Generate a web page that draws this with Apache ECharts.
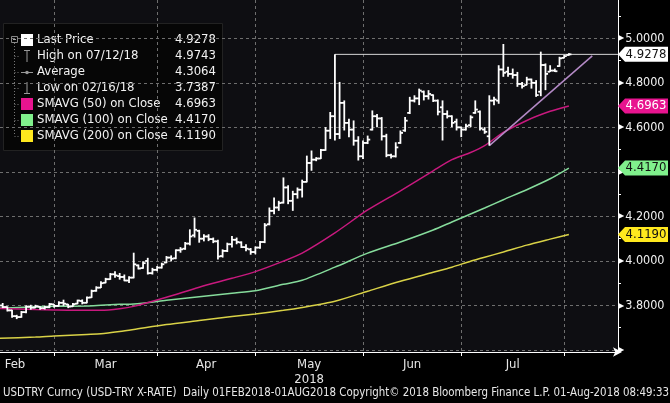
<!DOCTYPE html>
<html>
<head>
<meta charset="utf-8">
<style>html,body{margin:0;padding:0;background:#000;}#c{width:670px;height:403px;}</style>
<script src="https://cdn.jsdelivr.net/npm/echarts@6/dist/echarts.min.js"></script>
</head>
<body>
<div id="c"></div>
<script>
// ---------- DATA ----------
const startIdx = 8; // first visible trading day index (13 Feb 2018), 0 = 01 Feb 2018
const opens = [3.800,3.793,3.778,3.752,3.748,3.770,3.795,3.790,3.794,3.788,3.792,3.805,
  3.798,3.812,3.805,3.796,3.808,3.820,3.812,3.836,3.866,3.880,3.902,3.918,3.940,3.932,3.928,3.912,3.925,3.980,3.968,4.000,3.945,3.960,
  3.970,3.993,4.015,4.012,4.048,4.055,4.078,4.115,4.135,4.100,4.110,4.098,4.088,4.022,4.045,4.075,4.095,4.083,4.062,4.052,4.040,
  4.060,4.085,4.165,4.225,4.240,4.262,4.330,4.270,4.300,4.320,4.355,4.440,4.455,4.460,4.498,4.585,4.650,4.570,4.710,4.620,4.590,4.540,4.470,
  4.530,4.590,4.650,4.640,4.560,4.475,4.470,4.530,4.586,4.665,4.720,4.730,4.760,4.740,4.745,4.720,4.690,4.660,4.650,4.625,4.600,
  4.590,4.610,4.665,4.670,4.590,4.560,4.720,4.720,4.860,4.850,4.840,4.835,4.795,4.790,4.815,4.800,4.760,4.880,4.850,4.855,4.875,4.912,
  4.925];
const highs = [3.811,3.796,3.781,3.758,3.775,3.800,3.803,3.803,3.796,3.798,3.811,3.806,
  3.819,3.826,3.807,3.811,3.826,3.827,3.840,3.871,3.886,3.909,3.924,3.946,3.954,3.946,3.939,3.931,4.037,3.984,3.999,4.014,3.969,3.977,
  3.992,4.022,4.025,4.052,4.062,4.085,4.142,4.195,4.140,4.120,4.120,4.105,4.095,4.052,4.082,4.112,4.105,4.088,4.075,4.058,4.065,
  4.090,4.170,4.240,4.285,4.270,4.375,4.340,4.315,4.330,4.365,4.473,4.496,4.466,4.503,4.601,4.669,4.928,4.804,4.721,4.639,4.631,4.560,4.541,
  4.563,4.676,4.660,4.646,4.571,4.481,4.533,4.586,4.646,4.737,4.744,4.774,4.765,4.767,4.748,4.725,4.721,4.676,4.654,4.639,4.601,
  4.616,4.654,4.721,4.676,4.601,4.744,4.737,4.879,4.9743,4.872,4.864,4.849,4.804,4.827,4.819,4.812,4.940,4.887,4.879,4.864,4.917,4.925,
  4.933];
const lows = [3.788,3.773,3.745,3.7387,3.745,3.765,3.781,3.788,3.781,3.782,3.788,3.790,
  3.796,3.798,3.788,3.794,3.806,3.805,3.810,3.834,3.862,3.878,3.900,3.915,3.924,3.916,3.909,3.901,3.922,3.962,3.965,3.939,3.939,3.954,
  3.966,3.990,3.998,4.008,4.037,4.050,4.070,4.105,4.082,4.088,4.089,4.080,4.007,4.015,4.040,4.060,4.075,4.058,4.044,4.028,4.030,
  4.055,4.080,4.160,4.210,4.225,4.258,4.255,4.225,4.280,4.285,4.353,4.405,4.448,4.458,4.495,4.548,4.541,4.548,4.586,4.556,4.518,4.451,4.458,
  4.525,4.586,4.601,4.541,4.466,4.460,4.465,4.526,4.580,4.660,4.712,4.700,4.721,4.725,4.714,4.654,4.541,4.640,4.601,4.586,4.556,
  4.586,4.601,4.661,4.586,4.571,4.518,4.699,4.706,4.827,4.827,4.819,4.782,4.774,4.789,4.774,4.737,4.740,4.767,4.849,4.849,4.872,4.910,
  4.922];
const closes = [3.793,3.778,3.752,3.748,3.770,3.795,3.790,3.796,3.788,3.792,3.806,3.798,
  3.812,3.808,3.795,3.806,3.822,3.812,3.835,3.865,3.880,3.900,3.918,3.940,3.935,3.928,3.912,3.925,3.985,3.966,3.990,3.945,3.960,3.970,
  3.985,4.015,4.010,4.048,4.052,4.078,4.110,4.140,4.100,4.110,4.098,4.088,4.020,4.045,4.075,4.095,4.085,4.062,4.055,4.040,4.060,
  4.085,4.160,4.225,4.240,4.260,4.330,4.270,4.300,4.320,4.355,4.440,4.455,4.460,4.498,4.585,4.650,4.570,4.710,4.620,4.590,4.540,4.470,4.530,
  4.545,4.650,4.640,4.560,4.475,4.470,4.510,4.575,4.630,4.720,4.730,4.765,4.740,4.750,4.720,4.670,4.660,4.650,4.620,4.600,4.590,
  4.605,4.645,4.680,4.595,4.580,4.720,4.725,4.860,4.845,4.840,4.835,4.795,4.785,4.815,4.800,4.745,4.880,4.840,4.855,4.852,4.910,4.920,
  4.9278];

// moving averages (trading-day index, value)
const smaIdx = [7,15,19,26,29,33,36,43,50,57,62,68,72,79,86,93,100,104,108,111,115,120,125,129];
const sma50  = [3.787,3.782,3.780,3.778,3.778,3.785,3.796,3.837,3.882,3.922,3.952,3.999,4.035,4.126,4.229,4.315,4.405,4.455,4.487,4.518,4.577,4.631,4.672,4.6963];
const sma100 = [3.787,3.794,3.796,3.798,3.801,3.805,3.807,3.823,3.839,3.855,3.866,3.895,3.913,3.972,4.035,4.085,4.139,4.175,4.211,4.238,4.275,4.320,4.369,4.4170];
const sma200 = [3.652,3.658,3.663,3.670,3.673,3.683,3.692,3.714,3.732,3.750,3.762,3.778,3.791,3.819,3.864,3.909,3.949,3.972,3.999,4.017,4.040,4.071,4.098,4.1190];

// annotations
const trendLine = [[112, 4.518], [134, 4.921]];
const lastPrice = 4.9278;
const hLineStart = 79;

// axes
const monthEndIdx = [19, 41, 62, 85, 106, 128];
const monthNames = ['Feb', 'Mar', 'Apr', 'May\n2018', 'Jun', 'Jul'];
const yTicks = [3.6, 3.8, 4.0, 4.2, 4.4, 4.6, 4.8, 5.0];
const yMinorTicks = [3.7, 3.9, 4.1, 4.3, 4.5, 4.7, 4.9, 5.1];

// legend
const legendLabels = ['Last Price', 'High on 07/12/18', 'Average', 'Low on 02/16/18',
  'SMAVG (50) on Close', 'SMAVG (100) on Close', 'SMAVG (200) on Close'];
const legendValues = [4.9278, 4.9743, 4.3064, 3.7387, 4.6963, 4.4170, 4.1190];
const footer = 'USDTRY Curncy (USD-TRY X-RATE)  Daily 01FEB2018-01AUG2018 Copyright\u00a9 2018 Bloomberg Finance L.P. 01-Aug-2018 08:49:33';

// ---------- CHART ----------
const FF = "'DejaVu Sans Condensed','DejaVu Sans',sans-serif";
const xMin = 7.425, xMax = 139.5, yMin = 3.591, yMax = 5.172;
const C50 = '#c8197e', C100 = '#86dc9c', C200 = '#d9d247';
const T50 = '#e8148f', T100 = '#80f08c', T200 = '#ffe81e';

const bars = opens.map((o, k) => [startIdx + k, o, highs[k], lows[k], closes[k]]);
const firstMonthLabel = xMin + 3.2;
const monthLabelPos = [firstMonthLabel].concat(monthEndIdx.slice(1).map((v, k) => (monthEndIdx[k] + v) / 2));

function tag(value, bg, fg) {
  return {
    symbol: 'path://M0,7 L7,0 L50,0 L50,14 L7,14 Z',
    symbolSize: [50, 15],
    symbolKeepAspect: false,
    symbolOffset: [25, 0],
    silent: true,
    data: [{ coord: [xMax, value], value: value }],
    itemStyle: { color: bg },
    label: { show: true, position: 'inside', offset: [3, 0], color: fg, fontSize: 13, fontFamily: FF,
      formatter: p => p.value.toFixed(4) }
  };
}

const chart = echarts.init(document.getElementById('c'), null, { renderer: 'canvas' });

const legendGraphics = [];
legendGraphics.push({ type: 'rect', shape: { x: 3.5, y: 23.5, width: 219, height: 127 },
  style: { fill: '#060606', stroke: '#222', lineWidth: 1 } });
const rowY = k => 40 + k * 16;
// tree
legendGraphics.push({ type: 'rect', shape: { x: 11.5, y: 36.5, width: 6, height: 6 }, style: { fill: 'none', stroke: '#888', lineWidth: 1 } });
legendGraphics.push({ type: 'line', shape: { x1: 13, y1: 39.5, x2: 16, y2: 39.5 }, style: { stroke: '#aaa', lineWidth: 1 } });
legendGraphics.push({ type: 'line', shape: { x1: 14.5, y1: 43, x2: 14.5, y2: rowY(6) }, style: { stroke: '#777', lineWidth: 1, lineDash: [1, 2] } });
for (let k = 1; k < 7; k++) {
  legendGraphics.push({ type: 'line', shape: { x1: 14.5, y1: rowY(k) + 0.5, x2: 19, y2: rowY(k) + 0.5 }, style: { stroke: '#777', lineWidth: 1, lineDash: [1, 2] } });
}
// icons
const iconColors = ['#ffffff', null, null, null, T50, T100, T200];
iconColors.forEach((c, k) => {
  if (c) legendGraphics.push({ type: 'rect', shape: { x: 21, y: rowY(k) - 6, width: 12, height: 12 }, style: { fill: c } });
});
legendGraphics.push({ type: 'line', shape: { x1: 27, y1: rowY(1) - 6, x2: 27, y2: rowY(1) + 6 }, style: { stroke: '#999', lineWidth: 1 } });
legendGraphics.push({ type: 'line', shape: { x1: 24, y1: rowY(1) - 5.5, x2: 30, y2: rowY(1) - 5.5 }, style: { stroke: '#999', lineWidth: 1 } });
legendGraphics.push({ type: 'line', shape: { x1: 21, y1: rowY(2) + 0.5, x2: 33, y2: rowY(2) + 0.5 }, style: { stroke: '#999', lineWidth: 1 } });
legendGraphics.push({ type: 'circle', shape: { cx: 27, cy: rowY(2) + 0.5, r: 1.8 }, style: { fill: '#999' } });
legendGraphics.push({ type: 'line', shape: { x1: 27, y1: rowY(3) - 6, x2: 27, y2: rowY(3) + 6 }, style: { stroke: '#999', lineWidth: 1 } });
legendGraphics.push({ type: 'line', shape: { x1: 24, y1: rowY(3) + 5.5, x2: 30, y2: rowY(3) + 5.5 }, style: { stroke: '#999', lineWidth: 1 } });
legendLabels.forEach((t, k) => {
  legendGraphics.push({ type: 'text', style: { text: t, x: 37, y: rowY(k), fill: '#f2f2f2', fontSize: 13, fontFamily: FF, verticalAlign: 'middle', align: 'left' } });
  legendGraphics.push({ type: 'text', style: { text: legendValues[k].toFixed(4), x: 216, y: rowY(k), fill: '#f2f2f2', fontSize: 13, fontFamily: FF, verticalAlign: 'middle', align: 'right' } });
});
legendGraphics.push({ type: 'text', style: { text: footer, x: 3, y: 393, fill: '#e8e8e8', fontSize: 11.4, fontFamily: FF, verticalAlign: 'middle', align: 'left' } });

const option = {
  animation: false,
  backgroundColor: '#000',
  grid: { left: 0, right: 52, top: 0, bottom: 51, show: true, backgroundColor: '#0e0e12', borderWidth: 0 },
  xAxis: {
    type: 'value', min: xMin, max: xMax,
    axisLine: { show: true, lineStyle: { color: '#fff', width: 1 }, symbol: ['none', 'arrow'], symbolSize: [7, 9], symbolOffset: [0, 4] },
    axisTick: { show: true, customValues: monthEndIdx, length: 4, lineStyle: { color: '#fff' } },
    axisLabel: { customValues: monthLabelPos, color: '#e6e6e6', fontSize: 13, fontFamily: FF, lineHeight: 15, margin: 5,
      formatter: v => { const k = monthLabelPos.findIndex(p => Math.abs(p - v) < 1e-6); return k >= 0 ? monthNames[k] : ''; } },
    splitLine: { show: true, lineStyle: { color: '#6e6e6e', type: [3, 3], width: 1 } }
  },
  yAxis: [{
    type: 'value', position: 'right', min: yMin, max: yMax,
    axisLine: { show: true, lineStyle: { color: '#fff', width: 1 } },
    axisTick: { show: true, customValues: yMinorTicks, length: 3, inside: false, lineStyle: { color: '#fff' } },
    axisLabel: { customValues: yTicks, margin: 0, color: '#f0f0f0',
      formatter: v => Math.abs(v - 3.6) < 1e-6 ? '{a|\u25B6}' : '{a|\u25B6}{b|' + v.toFixed(4) + '}',
      rich: { a: { fontSize: 8, color: '#fff', fontFamily: 'DejaVu Sans', verticalAlign: 'middle' },
              b: { fontSize: 12.5, color: '#f0f0f0', fontFamily: FF, padding: [0, 0, 0, 1], verticalAlign: 'middle' } } },
    splitLine: { show: false }
  }, {
    type: 'value', position: 'right', min: yMin, max: yMax,
    axisLine: { show: false }, axisLabel: { show: false },
    axisTick: { show: false, customValues: yTicks },
    splitLine: { show: true, lineStyle: { color: '#6e6e6e', type: [3, 3], width: 1 } }
  }],
  graphic: { elements: legendGraphics },
  series: [
    { type: 'line', name: 'SMAVG (200)', data: smaIdx.map((x, k) => [x, sma200[k]]), symbol: 'none', smooth: 0.25, lineStyle: { color: C200, width: 1.5 }, z: 2,
      markPoint: tag(legendValues[6], T200, '#111') },
    { type: 'line', name: 'SMAVG (100)', data: smaIdx.map((x, k) => [x, sma100[k]]), symbol: 'none', smooth: 0.25, lineStyle: { color: C100, width: 1.5 }, z: 2,
      markPoint: tag(legendValues[5], T100, '#111') },
    { type: 'line', name: 'SMAVG (50)', data: smaIdx.map((x, k) => [x, sma50[k]]), symbol: 'none', smooth: 0.25, lineStyle: { color: C50, width: 1.5 }, z: 2,
      markPoint: tag(legendValues[4], T50, '#fff') },
    { type: 'line', name: 'Trend', data: trendLine, symbol: 'none', lineStyle: { color: '#b48ac6', width: 1.5 }, z: 3 },
    { type: 'line', name: 'Level', data: [[hLineStart, lastPrice], [xMax, lastPrice]], symbol: 'none', lineStyle: { color: '#d6d6d6', width: 1 }, z: 3,
      markPoint: tag(lastPrice, '#ffffff', '#111') },
    { type: 'custom', name: 'USDTRY', data: bars, encode: { x: 0, y: [1, 2, 3, 4] }, clip: true, z: 5,
      renderItem: (params, api) => {
        const x = api.value(0);
        const pO = api.coord([x, api.value(1)]);
        const pH = api.coord([x, api.value(2)]);
        const pL = api.coord([x, api.value(3)]);
        const pC = api.coord([x, api.value(4)]);
        const w = api.size([1, 0])[0] * 0.55;
        const cx = pH[0];
        const st = { stroke: '#ffffff', lineWidth: 1.8 };
        return { type: 'group', children: [
          { type: 'line', shape: { x1: cx, y1: pH[1], x2: cx, y2: pL[1] }, style: st },
          { type: 'line', shape: { x1: cx - w, y1: pO[1], x2: cx, y2: pO[1] }, style: st },
          { type: 'line', shape: { x1: cx, y1: pC[1], x2: cx + w, y2: pC[1] }, style: st }
        ] };
      } }
  ]
};
chart.setOption(option);
</script>
</body>
</html>
